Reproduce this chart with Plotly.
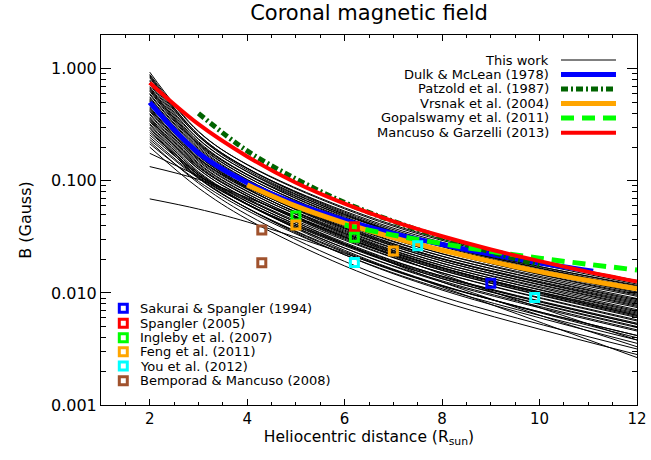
import plotly.graph_objects as go

# ---------------- data ----------------
this_work_r = [2, 3, 4, 6, 8, 12]
this_work_B = [
    [0.933, 0.277, 0.139, 0.0562, 0.0294, 0.0126],
    [0.891, 0.274, 0.140, 0.0575, 0.0302, 0.0129],
    [0.851, 0.257, 0.130, 0.0525, 0.0273, 0.0115],
    [0.832, 0.250, 0.125, 0.0501, 0.0258, 0.0107],
    [0.794, 0.250, 0.129, 0.0537, 0.0283, 0.0120],
    [0.776, 0.237, 0.120, 0.0479, 0.0245, 0.0100],
    [0.741, 0.234, 0.121, 0.0501, 0.0264, 0.0112],
    [0.724, 0.224, 0.114, 0.0457, 0.0235, 0.00955],
    [0.692, 0.219, 0.113, 0.0468, 0.0245, 0.0102],
    [0.676, 0.212, 0.108, 0.0437, 0.0223, 0.00891],
    [0.646, 0.207, 0.108, 0.0447, 0.0234, 0.00977],
    [0.631, 0.201, 0.103, 0.0417, 0.0213, 0.00851],
    [0.603, 0.195, 0.102, 0.0427, 0.0224, 0.00933],
    [0.589, 0.190, 0.0984, 0.0398, 0.0202, 0.00794],
    [0.562, 0.185, 0.0976, 0.0407, 0.0212, 0.00871],
    [0.550, 0.180, 0.0935, 0.0380, 0.0193, 0.00759],
    [0.525, 0.175, 0.0927, 0.0389, 0.0203, 0.00832],
    [0.513, 0.171, 0.0893, 0.0363, 0.0184, 0.00708],
    [0.490, 0.166, 0.0886, 0.0372, 0.0193, 0.00776],
    [0.479, 0.161, 0.0848, 0.0347, 0.0176, 0.00676],
    [0.457, 0.157, 0.0841, 0.0355, 0.0184, 0.00741],
    [0.447, 0.153, 0.0810, 0.0331, 0.0167, 0.00631],
    [0.427, 0.149, 0.0803, 0.0339, 0.0175, 0.00692],
    [0.417, 0.144, 0.0769, 0.0316, 0.0159, 0.00603],
    [0.398, 0.141, 0.0763, 0.0324, 0.0167, 0.00661],
    [0.389, 0.137, 0.0735, 0.0302, 0.0151, 0.00562],
    [0.372, 0.134, 0.0729, 0.0309, 0.0159, 0.00617],
    [0.363, 0.128, 0.0686, 0.0282, 0.0141, 0.00525],
    [0.347, 0.127, 0.0696, 0.0295, 0.0151, 0.00575],
    [0.339, 0.121, 0.0655, 0.0269, 0.0134, 0.00490],
    [0.324, 0.118, 0.0650, 0.0275, 0.0141, 0.00537],
    [0.316, 0.113, 0.0611, 0.0251, 0.0125, 0.00457],
    [0.302, 0.112, 0.0620, 0.0263, 0.0134, 0.00501],
    [0.295, 0.106, 0.0573, 0.0234, 0.0116, 0.00417],
    [0.269, 0.117, 0.0622, 0.0240, 0.0117, 0.00398],
    [0.257, 0.114, 0.0622, 0.0251, 0.0128, 0.00468],
    [0.245, 0.107, 0.0570, 0.0219, 0.0106, 0.00355],
    [0.234, 0.105, 0.0570, 0.0229, 0.0115, 0.00417],
    [0.224, 0.0953, 0.0499, 0.0191, 0.00924, 0.00316],
    [0.214, 0.0989, 0.0544, 0.0219, 0.0109, 0.00380],
    [0.200, 0.0864, 0.0455, 0.0174, 0.00838, 0.00282],
    [0.176, 0.110, 0.0677, 0.0275, 0.0125, 0.00331],
    [0.134, 0.103, 0.0708, 0.0316, 0.0147, 0.00380],
    [0.069, 0.056, 0.043, 0.0225, 0.0113, 0.00265],
    [0.871, 0.258, 0.129, 0.0513, 0.0264, 0.0110],
    [0.661, 0.215, 0.114, 0.0490, 0.0265, 0.0117],
    [0.537, 0.169, 0.0860, 0.0339, 0.0169, 0.00646],
    [0.437, 0.158, 0.0874, 0.0380, 0.0200, 0.00813],
    [0.355, 0.132, 0.0734, 0.0316, 0.0163, 0.00631],
    [0.282, 0.109, 0.0618, 0.0269, 0.0138, 0.00525],
]

dulk_r = [2, 3, 4, 5, 6, 7, 8, 9, 10, 11.1]
dulk_B = [0.5, 0.177, 0.0962, 0.0625, 0.0447, 0.034, 0.027, 0.0221, 0.0185, 0.0156]

patzold_r = [3, 4, 5, 6, 7, 8, 9, 10]
patzold_B = [0.40, 0.185, 0.104, 0.064, 0.0435, 0.0312, 0.0232, 0.0177]

vrsnak_r = [4, 5, 6, 7, 8, 9, 10, 11, 12]
vrsnak_B = [0.092, 0.0595, 0.042, 0.0311, 0.024, 0.0191, 0.0155, 0.0129, 0.0109]

gopal_r = [6, 7, 8, 9, 10, 11, 12]
gopal_B = [0.0403, 0.0328, 0.0275, 0.0235, 0.0204, 0.018, 0.016]

mancuso_r = [2, 3, 4, 5, 6, 7, 8, 9, 10, 11, 12]
mancuso_B = [0.75, 0.32, 0.165, 0.096, 0.0625, 0.0435, 0.032, 0.0244, 0.0192, 0.0154, 0.0126]

# observations (square markers)
sakurai_r, sakurai_B = [9.0], [0.0122]
spangler_r, spangler_B = [6.2], [0.039]
ingleby_r, ingleby_B = [5.0, 6.2], [0.0485, 0.0313]
feng_r, feng_B = [5.0, 7.0], [0.0403, 0.0236]
you_r, you_B = [6.2, 7.5, 9.9], [0.0187, 0.0264, 0.0091]
bemporad_r, bemporad_B = [4.3, 4.3], [0.0364, 0.0186]

line_series = [
    ("Dulk & McLean (1978)", dulk_r, dulk_B, "#0000ff", 5, "solid"),
    ("Patzold et al. (1987)", patzold_r, patzold_B, "#006400", 5, "7px,3px,2px,3px"),
    ("Vrsnak et al. (2004)", vrsnak_r, vrsnak_B, "#ffa500", 5, "solid"),
    ("Gopalswamy et al. (2011)", gopal_r, gopal_B, "#00ff00", 5, "13px,8px"),
    ("Mancuso & Garzelli (2013)", mancuso_r, mancuso_B, "#ff0000", 4, "solid"),
]

obs_series = [
    ("Sakurai & Spangler (1994)", sakurai_r, sakurai_B, "#0000ff"),
    ("Spangler (2005)", spangler_r, spangler_B, "#ff0000"),
    ("Ingleby et al. (2007)", ingleby_r, ingleby_B, "#00ff00"),
    ("Feng et al. (2011)", feng_r, feng_B, "#ffa500"),
    ("You et al. (2012)", you_r, you_B, "#00ffff"),
    ("Bemporad & Mancuso (2008)", bemporad_r, bemporad_B, "#a0522d"),
]

FONT = "DejaVu Sans"
LEG_SIZE = 13
fig = go.Figure()

for curve in this_work_B:
    fig.add_trace(go.Scatter(x=this_work_r, y=curve, mode="lines",
                             line=dict(color="black", width=1, shape="spline"),
                             showlegend=False, hoverinfo="skip"))

for name, r, b, col, w, dash in line_series:
    fig.add_trace(go.Scatter(x=r, y=b, mode="lines",
                             line=dict(color=col, width=w, dash=dash, shape="spline"),
                             showlegend=False, name=name))

for name, r, b, col in obs_series:
    fig.add_trace(go.Scatter(x=r, y=b, mode="markers",
                             marker=dict(symbol="square-open", size=8, color=col,
                                         line=dict(color=col, width=3)),
                             showlegend=False, name=name))

# ---- top-right legend (text left, sample line right) ----
leg1_y = [0.9324, 0.8932, 0.8541, 0.8149, 0.7757, 0.7359]
leg1_items = [("This work", "black", 1, "solid")] + [(s[0], s[3], s[4], s[5]) for s in line_series]
annotations = []
for (name, col, w, dash), yy in zip(leg1_items, leg1_y):
    fig.add_trace(go.Scatter(x=[0.8582, 0.9608], y=[yy, yy], xaxis="x2", yaxis="y2",
                             mode="lines", line=dict(color=col, width=w, dash=dash),
                             showlegend=False, hoverinfo="skip"))
    annotations.append(dict(x=0.8377, y=yy, xref="paper", yref="paper", text=name,
                            showarrow=False, xanchor="right", yanchor="middle",
                            borderpad=0,
                            font=dict(family=FONT, size=LEG_SIZE, color="black")))

# ---- bottom-left legend (square then text) ----
leg2_y = [0.2614, 0.2208, 0.1819, 0.1441, 0.1054, 0.0657]
for (name, r, b, col), yy in zip(obs_series, leg2_y):
    fig.add_trace(go.Scatter(x=[0.0416], y=[yy], xaxis="x2", yaxis="y2", mode="markers",
                             marker=dict(symbol="square-open", size=8, color=col,
                                         line=dict(color=col, width=3)),
                             showlegend=False, hoverinfo="skip"))
    annotations.append(dict(x=0.0715, y=yy, xref="paper", yref="paper", text=name,
                            showarrow=False, xanchor="left", yanchor="middle",
                            borderpad=0,
                            font=dict(family=FONT, size=LEG_SIZE, color="black")))

minor_y = []
for dec in [0.001, 0.01, 0.1, 1.0]:
    for k in range(2, 10):
        v = round(k * dec, 6)
        if v <= 2.0:
            minor_y.append(v)

fig.update_layout(
    width=651, height=460,
    margin=dict(l=101, r=14, t=35, b=55, autoexpand=False),
    paper_bgcolor="white", plot_bgcolor="white",
    font=dict(family=FONT, color="black"),
    title=dict(text="Coronal magnetic field", x=0.5, xref="paper", xanchor="center",
               y=1 - 5 / 460, yref="container", yanchor="top",
               font=dict(family=FONT, size=21, color="black")),
    xaxis=dict(range=[1, 12], tickmode="array", tickvals=[2, 4, 6, 8, 10, 12],
               ticks="inside", ticklen=6, tickwidth=1, tickcolor="black",
               showline=True, linecolor="black", linewidth=1, mirror="allticks",
               showgrid=False, zeroline=False, automargin=False,
               tickfont=dict(family=FONT, size=15, color="black"),
               minor=dict(ticks="inside", ticklen=3, tickwidth=1, tickcolor="black",
                          tickmode="linear", tick0=0, dtick=0.5, showgrid=False),
               title=dict(text="Heliocentric distance (R<sub>sun</sub>)", standoff=2,
                          font=dict(family=FONT, size=15.5, color="black"))),
    yaxis=dict(type="log", range=[-3, 0.30103], tickmode="array",
               tickvals=[0.001, 0.01, 0.1, 1.0], ticktext=["0.001", "0.010", "0.100", "1.000"],
               ticks="inside", ticklen=10, tickwidth=1, tickcolor="black",
               showline=True, linecolor="black", linewidth=1, mirror="allticks",
               showgrid=False, zeroline=False, automargin=False,
               tickfont=dict(family=FONT, size=16, color="black"),
               minor=dict(ticks="inside", ticklen=5, tickwidth=1, tickcolor="black",
                          tickmode="array", tickvals=minor_y, showgrid=False),
               title=dict(text="B (Gauss)",
                          font=dict(family=FONT, size=16, color="black"))),
    xaxis2=dict(overlaying="x", range=[0, 1], visible=False, anchor="y"),
    yaxis2=dict(overlaying="y", range=[0, 1], visible=False, anchor="x"),
    annotations=annotations,
    showlegend=False,
)

fig.write_html("out.html", config={"displayModeBar": False},
               post_script="document.body.style.margin='0px';document.body.style.padding='0px';")
